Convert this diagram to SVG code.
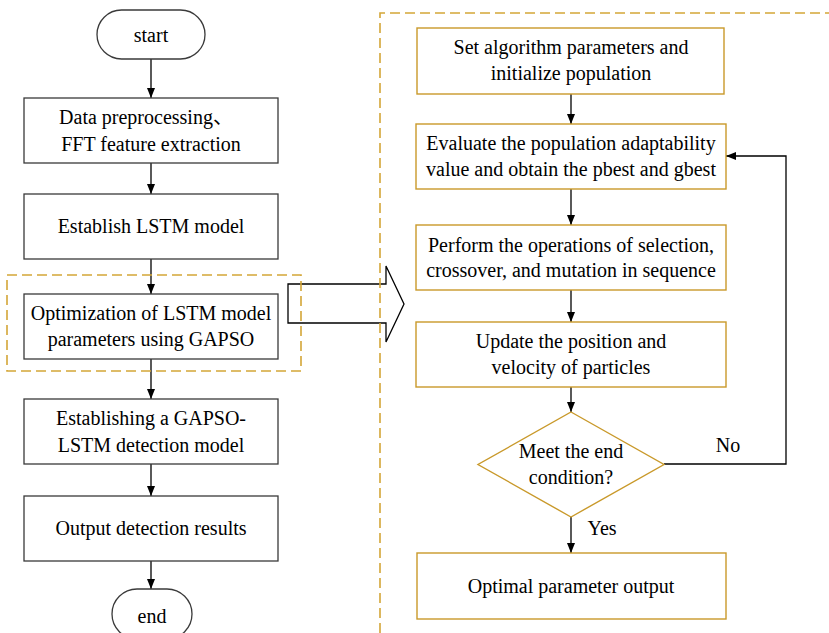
<svg xmlns="http://www.w3.org/2000/svg" width="829" height="633" viewBox="0 0 829 633">
<defs>
<marker id="ah" markerWidth="10" markerHeight="10" refX="10" refY="5" orient="auto" markerUnits="userSpaceOnUse">
<path d="M0,1 L10,5 L0,9 Z" fill="#000"/>
</marker>
<style>
text{font-family:'Liberation Serif','Times New Roman',serif;font-size:20px;fill:#000;text-anchor:middle}
.cjk{font-family:'Liberation Serif','Noto Sans CJK SC',serif}
.bk{fill:#fff;stroke:#3a3a3a;stroke-width:1.3}
.gd{fill:#fff;stroke:#C9992A;stroke-width:1.4}
.ds{fill:none;stroke:#D4A637;stroke-width:1.6;stroke-dasharray:10 5}
.cn{fill:none;stroke:#000;stroke-width:1.3}
</style>
</defs>
<rect width="829" height="633" fill="#fff"/>

<g id="connectors">
<line class="cn" x1="151" y1="59" x2="151" y2="98" marker-end="url(#ah)"/>
<line class="cn" x1="151" y1="163" x2="151" y2="194" marker-end="url(#ah)"/>
<line class="cn" x1="151" y1="259" x2="151" y2="294" marker-end="url(#ah)"/>
<line class="cn" x1="151" y1="359" x2="151" y2="399" marker-end="url(#ah)"/>
<line class="cn" x1="151" y1="464" x2="151" y2="496" marker-end="url(#ah)"/>
<line class="cn" x1="151" y1="561" x2="151" y2="589" marker-end="url(#ah)"/>
<line class="cn" x1="571" y1="94" x2="571" y2="124" marker-end="url(#ah)"/>
<line class="cn" x1="571" y1="189" x2="571" y2="225" marker-end="url(#ah)"/>
<line class="cn" x1="571" y1="290" x2="571" y2="322" marker-end="url(#ah)"/>
<line class="cn" x1="571" y1="387" x2="571" y2="412" marker-end="url(#ah)"/>
<line class="cn" x1="571" y1="517" x2="571" y2="553" marker-end="url(#ah)"/>
<polyline class="cn" points="664,464 786,464 786,156 726,156" marker-end="url(#ah)"/>
<text x="728" y="452">No</text>
<text x="602" y="535">Yes</text>
<polygon id="blockarrow" points="288,284 386,284 386,266 404,304 386,342 386,323 288,323" fill="#fff" stroke="#000" stroke-width="1.3"/>
</g>

<g id="start"><rect class="bk" x="97" y="10" width="108" height="49" rx="24.5"/><text x="151" y="42">start</text></g>
<g id="n1"><rect class="bk" x="24" y="98" width="254" height="65"/><text class="cjk" x="146" y="124">Data preprocessing、</text><text x="151" y="151">FFT feature extraction</text></g>
<g id="n2"><rect class="bk" x="24" y="194" width="254" height="65"/><text x="151" y="233">Establish LSTM model</text></g>
<g id="n3"><rect class="bk" x="24" y="294" width="254" height="65"/><text x="151" y="320">Optimization of LSTM model</text><text x="151" y="346">parameters using GAPSO</text></g>
<g id="n4"><rect class="bk" x="24" y="399" width="254" height="65"/><text x="151" y="425">Establishing a GAPSO-</text><text x="151" y="452">LSTM detection model</text></g>
<g id="n5"><rect class="bk" x="24" y="496" width="254" height="65"/><text x="151" y="535">Output detection results</text></g>
<g id="end"><rect class="bk" x="112" y="589" width="80" height="50" rx="25"/><text x="152" y="623">end</text></g>

<g id="r1"><rect class="gd" x="417" y="28" width="307" height="66"/><text x="571" y="54">Set algorithm parameters and</text><text x="571" y="80">initialize population</text></g>
<g id="r2"><rect class="gd" x="416" y="124" width="310" height="65"/><text x="571" y="150">Evaluate the population adaptability</text><text x="571" y="176">value and obtain the pbest and gbest</text></g>
<g id="r3"><rect class="gd" x="416" y="225" width="310" height="65"/><text x="571" y="252">Perform the operations of selection,</text><text x="571" y="277">crossover, and mutation in sequence</text></g>
<g id="r4"><rect class="gd" x="416" y="322" width="310" height="65"/><text x="571" y="348">Update the position and</text><text x="571" y="374">velocity of particles</text></g>
<g id="d1"><polygon class="gd" points="571,412 664,464.5 571,517 478,464.5"/><text x="571" y="458">Meet the end</text><text x="571" y="484">condition?</text></g>
<g id="r5"><rect class="gd" x="417" y="553" width="309" height="66"/><text x="571" y="593">Optimal parameter output</text></g>

<g id="groups">
<rect class="ds" x="7" y="275" width="294" height="96"/>
<polyline class="ds" points="380,633 380,13 829,13"/>
</g>
</svg>
